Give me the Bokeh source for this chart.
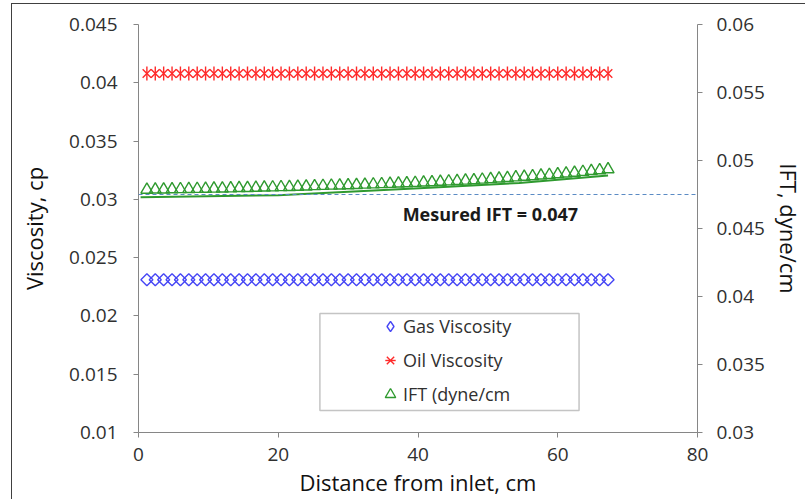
import math
from bokeh.plotting import figure
from bokeh.models import (Range1d, LinearAxis, FixedTicker, CustomJSTickFormatter,
                          Span, Label, Legend, LegendItem, BoxAnnotation, ColumnDataSource)
from bokeh.embed import file_html
from bokeh.resources import INLINE

# ---------------- data ----------------
distance_cm = [1.2, 2.4, 3.6, 4.8, 6.0, 7.2, 8.4, 9.6, 10.8, 12.0, 13.2, 14.4, 15.6, 16.8,
               18.0, 19.2, 20.4, 21.6, 22.8, 24.0, 25.2, 26.4, 27.6, 28.8, 30.0, 31.2, 32.4,
               33.6, 34.8, 36.0, 37.2, 38.4, 39.6, 40.8, 42.0, 43.2, 44.4, 45.6, 46.8, 48.0,
               49.2, 50.4, 51.6, 52.8, 54.0, 55.2, 56.4, 57.6, 58.8, 60.0, 61.2, 62.4, 63.6,
               64.8, 66.0, 67.2]
gas_viscosity = [0.0231, 0.0231, 0.0231, 0.0231, 0.0231, 0.0231, 0.0231, 0.0231, 0.0231, 0.0231,
                 0.0231, 0.0231, 0.0231, 0.0231, 0.0231, 0.0231, 0.0231, 0.0231, 0.0231, 0.0231,
                 0.0231, 0.0231, 0.0231, 0.0231, 0.0231, 0.0231, 0.0231, 0.0231, 0.0231, 0.0231,
                 0.0231, 0.0231, 0.0231, 0.0231, 0.0231, 0.0231, 0.0231, 0.0231, 0.0231, 0.0231,
                 0.0231, 0.0231, 0.0231, 0.0231, 0.0231, 0.0231, 0.0231, 0.0231, 0.0231, 0.0231,
                 0.0231, 0.0231, 0.0231, 0.0231, 0.0231, 0.0231]
oil_viscosity = [0.0408, 0.0408, 0.0408, 0.0408, 0.0408, 0.0408, 0.0408, 0.0408, 0.0408, 0.0408,
                 0.0408, 0.0408, 0.0408, 0.0408, 0.0408, 0.0408, 0.0408, 0.0408, 0.0408, 0.0408,
                 0.0408, 0.0408, 0.0408, 0.0408, 0.0408, 0.0408, 0.0408, 0.0408, 0.0408, 0.0408,
                 0.0408, 0.0408, 0.0408, 0.0408, 0.0408, 0.0408, 0.0408, 0.0408, 0.0408, 0.0408,
                 0.0408, 0.0408, 0.0408, 0.0408, 0.0408, 0.0408, 0.0408, 0.0408, 0.0408, 0.0408,
                 0.0408, 0.0408, 0.0408, 0.0408, 0.0408, 0.0408]
ift = [0.04785, 0.04786, 0.04787, 0.04788, 0.04789, 0.04790, 0.04791, 0.04792, 0.04793, 0.04794,
       0.04795, 0.04797, 0.04798, 0.04799, 0.04801, 0.04802, 0.04804, 0.04805, 0.04807, 0.04809,
       0.04811, 0.04813, 0.04815, 0.04816, 0.04818, 0.04820, 0.04822, 0.04824, 0.04826, 0.04828,
       0.04831, 0.04833, 0.04835, 0.04838, 0.04840, 0.04843, 0.04846, 0.04849, 0.04852, 0.04855,
       0.04859, 0.04863, 0.04867, 0.04871, 0.04876, 0.04880, 0.04884, 0.04889, 0.04894, 0.04899,
       0.04904, 0.04910, 0.04916, 0.04922, 0.04928, 0.04935]
ift_line_x = [0.3, 20.0, 41.6, 54.5, 67.2]
ift_line_y = [0.0473, 0.04745, 0.0480, 0.04835, 0.0489]
measured_ift_level = 0.0475
measured_ift_text = "Mesured IFT = 0.047"

x_ticks = [0, 20, 40, 60, 80]
left_ticks = [0.01, 0.015, 0.02, 0.025, 0.03, 0.035, 0.04, 0.045]
right_ticks = [0.03, 0.035, 0.04, 0.045, 0.05, 0.055, 0.06]

FONT = "Open Sans"
AXIS_COL = "#868686"
TXT_COL = "#303030"
BLUE = "#4646f5"
RED = "#ff2a2a"
GREEN = "#2f9a2f"

src = ColumnDataSource(dict(x=distance_cm, gas=gas_viscosity, oil=oil_viscosity, ift=ift))

p = figure(width=794, height=496, output_backend="svg", toolbar_location=None,
           x_range=Range1d(0, 80), y_range=Range1d(0.01, 0.045),
           min_border_left=126, min_border_right=107, min_border_top=20, min_border_bottom=68,
           margin=(3, 0, 0, 11),
           styles={"border-left": "1px solid #404040", "border-top": "1px solid #404040"})
# "ift" = right axis; "legend_only" keeps the legend proxy glyph outside the frame
p.extra_y_ranges = {"ift": Range1d(0.03, 0.06), "legend_only": Range1d(1, 2)}
p.grid.visible = False
p.outline_line_color = None
p.background_fill_color = "white"
p.border_fill_color = "white"

fmt = CustomJSTickFormatter(code="return tick.toFixed(3).replace(/\\.?0+$/, '');")

right_axis = LinearAxis(y_range_name="ift")
p.add_layout(right_axis, "right")

p.xaxis.ticker = FixedTicker(ticks=x_ticks)
p.yaxis[0].ticker = FixedTicker(ticks=left_ticks)
p.yaxis[0].formatter = fmt
right_axis.ticker = FixedTicker(ticks=right_ticks)
right_axis.formatter = fmt

p.xaxis.axis_label = "Distance from inlet, cm"
p.yaxis[0].axis_label = "Viscosity, cp"
right_axis.axis_label = "IFT, dyne/cm"

for ax in [p.xaxis[0], p.yaxis[0], right_axis]:
    ax.axis_line_color = AXIS_COL
    ax.major_tick_line_color = AXIS_COL
    ax.major_tick_out = 5
    ax.major_tick_in = 0
    ax.minor_tick_line_color = None
    ax.major_label_text_font = FONT
    ax.major_label_text_font_size = "19px"
    ax.major_label_text_color = TXT_COL
    ax.axis_label_text_font = FONT
    ax.axis_label_text_font_size = "22px"
    ax.axis_label_text_font_style = "normal"
    ax.axis_label_text_color = "#111111"

p.yaxis[0].major_label_standoff = 16
p.yaxis[0].axis_label_standoff = 17
right_axis.major_label_standoff = 14
right_axis.axis_label_standoff = 6
p.xaxis.major_label_standoff = 10
p.xaxis.axis_label_standoff = 3

# measured IFT dashed line + label
p.add_layout(Span(location=measured_ift_level, dimension="width", y_range_name="ift",
                  line_color="#5b8bc4", line_dash="4 3", line_width=1))
p.add_layout(Label(x=37.8, y=0.0461, y_range_name="ift", text=measured_ift_text,
                   text_font=FONT, text_font_style="bold", text_font_size="18px",
                   text_color="#1a1a1a", text_baseline="middle"))

# series
r_gas = p.scatter("x", "gas", source=src, marker="square", angle=math.pi / 4, size=8.5,
                  fill_alpha=0, line_color=BLUE, line_width=1.4)
r_oil_x = p.scatter("x", "oil", source=src, marker="x", size=12,
                    line_color=RED, line_width=1.4)
r_oil_v = p.scatter("x", "oil", source=src, marker="dash", angle=math.pi / 2, size=14,
                    line_color=RED, line_width=1.4)
r_line = p.line(ift_line_x, ift_line_y, y_range_name="ift", line_color=GREEN, line_width=2)
r_ift = p.scatter("x", "ift", source=src, y_range_name="ift", marker="triangle", size=12,
                  fill_alpha=0, line_color=GREEN, line_width=1.4)
# legend proxy for the diamond (legend glyphs are never rotated); mapped off-frame
r_gas_leg = p.scatter("x", "gas", source=src, y_range_name="legend_only",
                      marker="diamond", fill_alpha=0, line_color=BLUE, line_width=1.4)

# legend
p.add_layout(BoxAnnotation(left=25.96, right=63.05, top=0.02021, bottom=0.01189,
                           fill_color="white", fill_alpha=1, line_color="#3a3a3a", line_width=1.5))
legend = Legend(items=[LegendItem(label="Gas Viscosity", renderers=[r_gas_leg]),
                       LegendItem(label="Oil Viscosity", renderers=[r_oil_x, r_oil_v]),
                       LegendItem(label="IFT (dyne/cm", renderers=[r_ift])],
                location=(231, 17), border_line_alpha=0, background_fill_alpha=0,
                padding=8, spacing=8, label_height=26, glyph_height=26, glyph_width=26,
                label_standoff=0, label_text_font=FONT, label_text_font_size="18px",
                label_text_color=TXT_COL, margin=0)
p.add_layout(legend)

open("out.html", "w").write(file_html(p, INLINE))
